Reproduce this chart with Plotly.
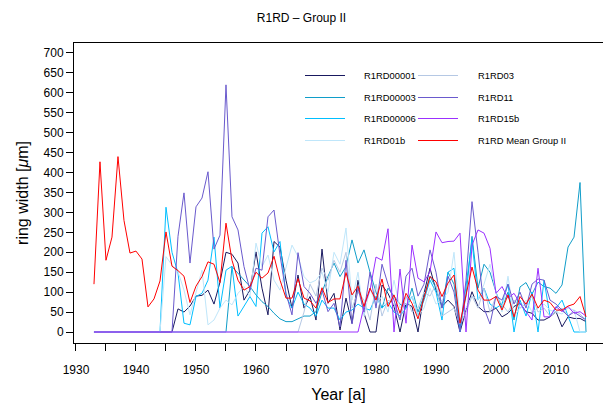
import plotly.graph_objects as go

# Ring-width series R1RD, Group II (values in micrometres), one value per year 1933-2015
years = list(range(1933, 2016))

r1rd00001 = [0] * 13 + [
    0, 58, 50, 65, 90, 92, 105, 70, 125, 200,          # 1946-1955
    195, 173, 80, 105, 201, 110, 43, 227, 213, 130,     # 1956-1965
    60, 143, 60, 89, 30, 208, 72, 97, 5, 85,            # 1966-1975
    22, 130, 47, 0, 0, 118, 97, 64, 0, 72,              # 1976-1985
    64, 0, 97, 160, 105, 64, 80, 64, 0, 55,             # 1986-1995
    101, 64, 51, 51, 60, 38, 47, 64, 72, 51,            # 1996-2005
    47, 30, 30, 38, 51, 13, 38, 34, 34, 26,             # 2006-2015
]

r1rd00003 = [0] * 22 + [
    0, 164, 148, 130, 114, 93, 76, 64, 47, 33,          # 1955-1964
    26, 26, 33, 40, 40, 51, 100, 140, 173, 139,         # 1965-1974
    164, 231, 173, 206, 150, 100, 60, 110, 90, 70,      # 1975-1984
    60, 110, 50, 90, 140, 110, 60, 150, 120, 10,        # 1985-1994
    90, 240, 110, 170, 150, 100, 60, 100, 30, 113,      # 1995-2004
    124, 95, 125, 114, 110, 97, 118, 213, 238, 375,     # 2005-2014
    0,                                                  # 2015
]

r1rd00006 = [0] * 11 + [
    0, 313, 200, 148, 22, 18, 89, 97, 130, 238,         # 1944-1953
    60, 155, 165, 40, 64, 89, 64, 248, 264, 201,        # 1954-1963
    227, 90, 60, 100, 70, 60, 40, 80, 60, 60,           # 1964-1973
    30, 50, 55, 70, 60, 55, 90, 60, 75, 50,             # 1974-1983
    40, 60, 90, 40, 80, 130, 100, 30, 150, 160,         # 1984-1993
    0, 120, 230, 80, 110, 70, 60, 70, 120, 0,           # 1994-2003
    80, 40, 100, 0, 130, 40, 60, 80, 40, 0,             # 2004-2013
    0, 0,                                               # 2014-2015
]

r1rd01b = [0] * 11 + [
    0, 189, 168, 151, 105, 43, 100, 155, 18, 30,        # 1944-1953
    60, 80, 68, 97, 114, 90, 223, 164, 193, 130,        # 1954-1963
    105, 160, 218, 189, 139, 123, 130, 150, 100, 200,   # 1964-1973
    170, 261, 80, 150, 40, 110, 70, 90, 50, 130,        # 1974-1983
    60, 70, 90, 40, 60, 110, 70, 80, 100, 200,          # 1984-1993
    30, 60, 90, 80, 120, 170, 100, 50, 140, 40,         # 1994-2003
    60, 80, 50, 60, 70, 55, 50, 45, 60, 55,             # 2004-2013
    0, 0,                                               # 2014-2015
]

r1rd03 = [0] * 34 + [
    0, 50, 120, 90, 160, 130, 180, 150, 200, 60,        # 1967-1976
    100, 80, 30, 120, 40, 80, 70, 30, 90, 50,           # 1977-1986
    60, 100, 90, 120, 40, 50, 60, 20, 50, 90,           # 1987-1996
    60, 110, 50, 90, 70, 50, 80, 60, 70, 90,            # 1997-2006
    50, 60, 40, 50, 60, 40, 55, 45, 30,                 # 2007-2015
]

r1rd11 = [0] * 13 + [
    0, 240, 349, 173, 314, 336, 402, 208, 243, 620,     # 1946-1955
    289, 256, 164, 105, 160, 155, 289, 306, 193, 97,    # 1956-1965
    43, 199, 114, 97, 72, 105, 51, 72, 13, 180,         # 1966-1975
    20, 110, 50, 150, 60, 170, 120, 80, 30, 140,        # 1976-1985
    160, 90, 120, 206, 150, 60, 140, 100, 0, 130,       # 1986-1995
    327, 200, 60, 20, 90, 80, 120, 70, 100, 60,         # 1996-2005
    120, 133, 130, 80, 70, 55, 40, 50, 40, 30,          # 2006-2015
]

r1rd15b = [0] * 44 + [
    0, 64, 105, 188, 180, 259, 0, 158, 22, 218,         # 1976-1985
    135, 126, 151, 251, 224, 227, 228, 248, 0, 218,     # 1986-1995
    256, 248, 210, 97, 114, 85, 97, 72, 51, 30,         # 1996-2005
    160, 38, 38, 64, 51, 64, 47, 51, 40, 34,            # 2006-2015
]

mean_group2 = [
    120, 427, 180, 238, 440, 280, 198, 203, 183, 63,    # 1933-1942
    83, 128, 251, 165, 154, 140, 74, 115, 139, 176,     # 1943-1952
    170, 124, 273, 180, 130, 105, 114, 150, 135, 148,   # 1953-1962
    190, 130, 85, 85, 134, 85, 78, 60, 111, 74,         # 1963-1972
    83, 83, 149, 93, 115, 64, 110, 80, 133, 64,         # 1973-1982
    93, 47, 97, 72, 33, 89, 139, 126, 89, 123,          # 1983-1992
    143, 22, 89, 163, 105, 80, 80, 89, 55, 93,          # 1993-2002
    38, 89, 70, 95, 60, 80, 74, 55, 55, 65,             # 2003-2012
    70, 89, 38,                                         # 2013-2015
]

series_names = ["R1RD00001", "R1RD00003", "R1RD00006", "R1RD01b",
                "R1RD03", "R1RD11", "R1RD15b", "R1RD Mean Group II"]
series_values = [r1rd00001, r1rd00003, r1rd00006, r1rd01b,
                 r1rd03, r1rd11, r1rd15b, mean_group2]
series_colors = ["#191960", "#109dc9", "#00bfff", "#bfe6fa",
                 "#b5c8e4", "#6a5acd", "#9b30ff", "#ff0000"]

FONT = "Liberation Sans, Arial, Helvetica, sans-serif"
W, H = 603, 405
ML, MR, MT, MB = 74, 0, 43, 62
PW, PH = W - ML - MR, H - MT - MB

fig = go.Figure()
for name, vals, col in zip(series_names, series_values, series_colors):
    fig.add_trace(go.Scatter(x=years, y=vals, mode="lines", name=name,
                             line=dict(color=col, width=1), showlegend=False))


def px_x(p):
    return (p - ML) / PW


def px_y(p):
    return (H - MB - p) / PH


# two-column key inside the plot area
col_line_x = [(305, 345), (418, 458)]
col_text_x = [363, 477]
row_y = [75.5, 97.5, 118.5, 140.5]
for i, (name, col) in enumerate(zip(series_names, series_colors)):
    c, r = divmod(i, 4)
    x0, x1 = col_line_x[c]
    fig.add_shape(type="line", xref="paper", yref="paper",
                  x0=px_x(x0), x1=px_x(x1), y0=px_y(row_y[r]), y1=px_y(row_y[r]),
                  line=dict(color=col, width=1))
    fig.add_annotation(xref="paper", yref="paper", x=px_x(col_text_x[c] - 1), y=px_y(row_y[r]),
                       text=name, showarrow=False, xanchor="left", yanchor="middle",
                       font=dict(family=FONT, size=9.4, color="#000000"))

fig.update_layout(
    width=W, height=H,
    margin=dict(l=ML, r=MR, t=MT, b=MB),
    paper_bgcolor="white", plot_bgcolor="white",
    font=dict(family=FONT, color="#000000"),
    title=dict(text="R1RD – Group II", x=0.5, xref="container", xanchor="center",
               y=1 - 18 / H, yref="container", yanchor="middle",
               font=dict(family=FONT, size=12, color="#000000")),
    xaxis=dict(range=[1929.67, 2017.83], showgrid=False, zeroline=False,
               showline=True, mirror=True, linecolor="#000000", linewidth=1,
               tickmode="linear", tick0=1930, dtick=10,
               ticks="outside", ticklen=7, tickcolor="#000000",
               minor=dict(dtick=5, tick0=1930, ticks="outside", ticklen=7, tickcolor="#000000"),
               tickfont=dict(family=FONT, size=12), ticklabelstandoff=9,
               title=dict(text="Year [a]", font=dict(family=FONT, size=16), standoff=12)),
    yaxis=dict(range=[-27.6, 725], showgrid=False, zeroline=False,
               showline=True, mirror=False, linecolor="#000000", linewidth=1,
               tickmode="linear", tick0=0, dtick=50,
               ticks="outside", ticklen=7, tickcolor="#000000",
               tickfont=dict(family=FONT, size=12),
               title=dict(text="ring width [<i>μ</i>m]", font=dict(family=FONT, size=16), standoff=10)),
)

fig.write_html("out.html")
